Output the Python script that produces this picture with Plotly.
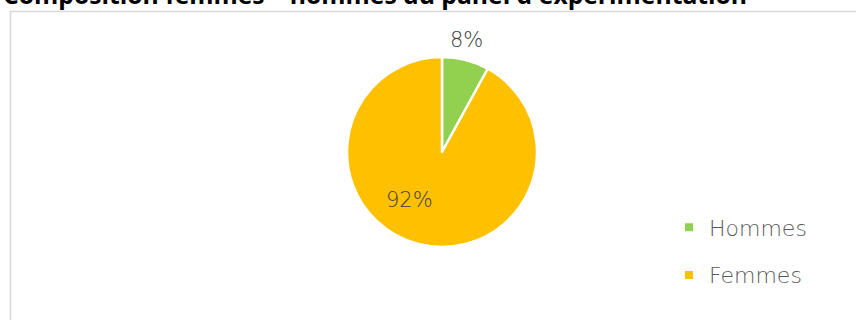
import math
import plotly.graph_objects as go

# Panel composition by sex
categories = ["Hommes", "Femmes"]
values = [8, 92]
colors = ["#92D050", "#FFC000"]
title_text = "Composition femmes – hommes du panel d'expérimentation"

W, H = 856, 320

def px_x(x):
    return x / W

def px_y(y):
    return 1 - y / H

# Pie placement in pixels
cx, cy, R = 442, 152, 95

fig = go.Figure()

fig.add_trace(go.Pie(
    labels=categories,
    values=values,
    sort=False,
    direction="clockwise",
    rotation=0,
    marker=dict(colors=colors, line=dict(color="white", width=2.5)),
    textinfo="none",
    domain=dict(x=[px_x(cx - R), px_x(cx + R)], y=[px_y(cy + R), px_y(cy - R)]),
    showlegend=False,
    hoverinfo="label+percent",
))

# Percentage labels: (angle position within slice as a fraction, radius factor)
label_pos = [(0.43, 1.21), (0.56, 0.61)]
total = sum(values)
start = 0.0
for v, (frac, rf) in zip(values, label_pos):
    ang = 2 * math.pi * (start + v * frac) / total
    lx = cx + rf * R * math.sin(ang)
    ly = cy - rf * R * math.cos(ang)
    fig.add_annotation(
        text=f"{round(100 * v / total)}%", xref="paper", yref="paper",
        x=px_x(lx), y=px_y(ly), xanchor="center", yanchor="middle",
        showarrow=False,
        font=dict(family="DejaVu Sans", size=21, color="#404040", weight=200),
    )
    start += v

# Legend entries, one group per category so the gap between them can be set
for name, color in zip(categories, colors):
    fig.add_trace(go.Scatter(
        x=[None], y=[None], mode="markers", name=name,
        legendgroup=name,
        marker=dict(symbol="square", size=8, color=color),
    ))

# Chart frame
fig.add_shape(type="rect", xref="paper", yref="paper",
              x0=px_x(10.5), x1=px_x(870), y0=px_y(340), y1=px_y(11.5),
              line=dict(color="#D9D9D9", width=1.5), fillcolor="rgba(0,0,0,0)")

fig.add_annotation(text=title_text, xref="paper", yref="paper",
                   x=px_x(1), y=px_y(13.5), xanchor="left", yanchor="bottom",
                   showarrow=False,
                   font=dict(family="Open Sans", size=24.7, color="#000000", weight="bold"))

fig.update_layout(
    width=W, height=H,
    margin=dict(l=0, r=0, t=0, b=0),
    paper_bgcolor="white",
    plot_bgcolor="white",
    xaxis=dict(visible=False),
    yaxis=dict(visible=False),
    legend=dict(x=px_x(669), y=px_y(206.5), xanchor="left", yanchor="top",
                font=dict(family="DejaVu Sans", size=22, color="#595959", weight=200),
                tracegroupgap=16, itemsizing="trace", bgcolor="rgba(0,0,0,0)"),
)

fig.write_html("out.html")
